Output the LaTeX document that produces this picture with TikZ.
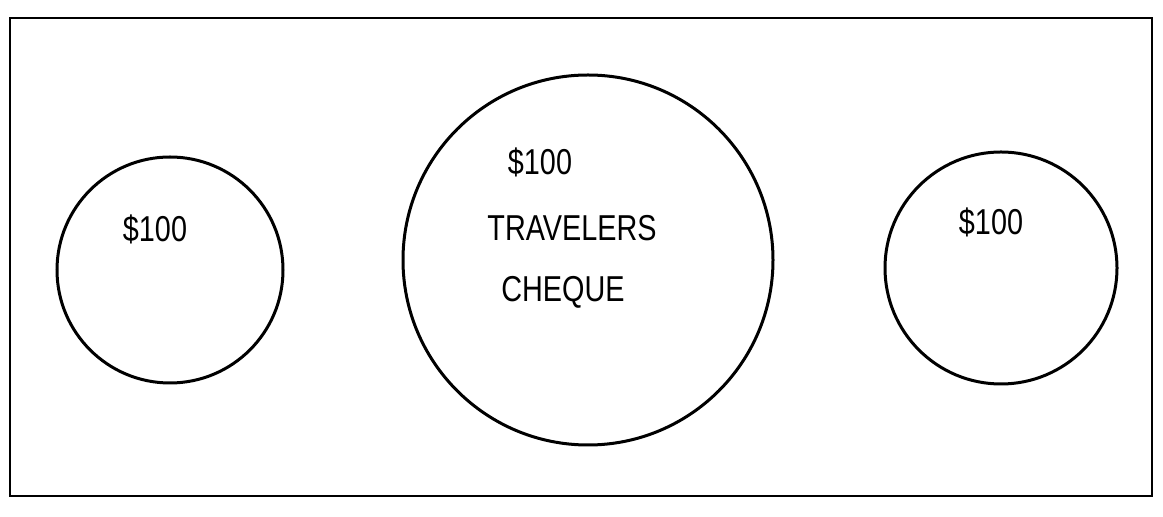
\documentclass[tikz,border=0pt]{standalone}
\usepackage{fontspec}
\setmainfont[FakeStretch=0.8]{Liberation Sans}
\usetikzlibrary{positioning}

\begin{document}
\begin{tikzpicture}[
      x=0.5pt, y=-0.5pt,
      coin/.style={draw, circle, line width=1.5pt, inner sep=0pt},
      label/.style={font=\fontsize{18}{21}\selectfont, inner sep=0pt}
    ]
    \useasboundingbox (0,0) rectangle (1163,517);
    \draw[line width=1.3pt] (10,18) rectangle (1152,496);
    \node[coin, minimum size=113pt] (leftcoin) at (170,270) {};
    \node[coin, minimum size=185pt] (midcoin) at (588,260) {};
    \node[coin, minimum size=116pt] (rightcoin) at (1001,268) {};
    \node[label] (leftval) at (155,229) {\$100};
    \node[label] (midval) at (540,162) {\$100};
    \node[label] (travel) at (572,228) {TRAVELERS};
    \node[label] (cheque) at (563,292) {CHEQUE};
    \node[label] (rightval) at (991,222) {\$100};
  \end{tikzpicture}
\end{document}
